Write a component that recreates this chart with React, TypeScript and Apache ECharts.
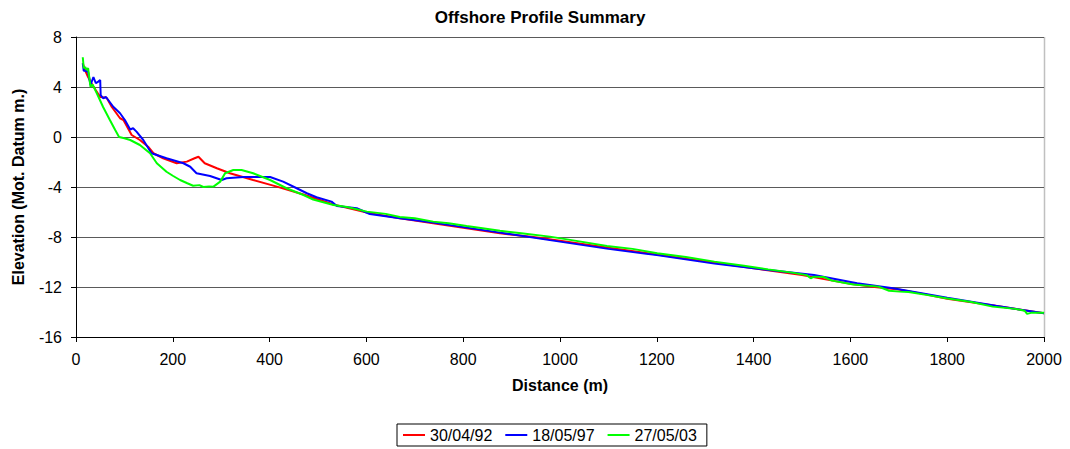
import React, { useEffect, useRef } from "react";
import * as echarts from "echarts";

const seriesNames = ["30/04/92", "18/05/97", "27/05/03"];
const xTicks = { min: 0, max: 2000, interval: 200 };
const yTicks = { min: -16, max: 8, interval: 4 };

const redX = [14, 18, 25, 32, 40, 50, 63, 74, 91, 98, 115, 132, 149, 160, 180, 208, 229, 245, 253, 266, 291, 318, 366, 415, 470, 532, 601, 669, 738, 807, 876, 945, 1000, 1100, 1200, 1300, 1400, 1500, 1600, 1650, 1700, 1750, 1800, 1900, 2000];
const redY = [5.9, 5.4, 4.8, 4.3, 3.8, 3.2, 3.15, 2.4, 1.5, 1.36, 0.16, -0.24, -0.78, -1.3, -1.7, -2.1, -1.97, -1.7, -1.58, -2.1, -2.5, -2.9, -3.44, -3.97, -4.6, -5.4, -6.05, -6.5, -6.9, -7.3, -7.7, -8.0, -8.3, -8.85, -9.4, -9.95, -10.5, -11.05, -11.75, -12.0, -12.2, -12.55, -12.95, -13.5, -14.1];

const blueX = [14, 16, 20, 25, 30, 36, 41, 46, 50, 51, 56, 62, 77, 91, 101, 112, 118, 125, 139, 156, 187, 222, 236, 249, 277, 301, 311, 346, 401, 428, 456, 477, 497, 528, 539, 580, 607, 669, 738, 807, 876, 979, 1100, 1200, 1319, 1400, 1525, 1614, 1688, 1800, 1900, 2000];
const blueY = [5.9, 5.3, 5.3, 5.2, 4.16, 4.8, 4.3, 4.43, 4.56, 3.36, 3.1, 3.2, 2.42, 1.9, 1.36, 0.6, 0.7, 0.43, -0.24, -1.3, -1.7, -2.1, -2.38, -2.9, -3.12, -3.44, -3.3, -3.2, -3.2, -3.57, -4.1, -4.5, -4.82, -5.17, -5.52, -5.7, -6.16, -6.5, -6.85, -7.25, -7.65, -8.25, -8.95, -9.45, -10.13, -10.5, -11.04, -11.7, -12.1, -12.85, -13.5, -14.1];

const greenX = [14, 16, 19, 22, 25, 28, 30, 34, 38, 43, 56, 70, 81, 89, 100, 112, 132, 153, 167, 187, 200, 215, 230, 242, 255, 263, 275, 284, 298, 308, 325, 342, 366, 401, 435, 470, 490, 532, 560, 601, 640, 669, 700, 738, 770, 807, 840, 876, 920, 979, 1040, 1097, 1150, 1201, 1260, 1319, 1380, 1430, 1480, 1510, 1518, 1525, 1545, 1562, 1606, 1658, 1680, 1702, 1720, 1760, 1798, 1850, 1894, 1940, 1960, 1965, 1975, 2000];
const greenY = [6.38, 5.5, 5.6, 5.36, 5.5, 4.6, 4.0, 4.2, 3.9, 3.5, 2.4, 1.36, 0.56, 0.0, -0.1, -0.24, -0.64, -1.3, -2.1, -2.78, -3.1, -3.44, -3.7, -3.9, -3.85, -4.0, -3.95, -3.97, -3.57, -2.9, -2.64, -2.64, -2.9, -3.44, -4.1, -4.64, -5.0, -5.44, -5.6, -5.97, -6.15, -6.4, -6.5, -6.77, -6.9, -7.12, -7.3, -7.5, -7.7, -7.97, -8.35, -8.72, -8.95, -9.3, -9.6, -9.97, -10.3, -10.59, -10.85, -11.05, -11.3, -11.17, -11.2, -11.49, -11.8, -11.97, -12.3, -12.37, -12.4, -12.65, -12.9, -13.2, -13.57, -13.75, -13.9, -14.15, -14.05, -14.05];

const colors = ["#FF0000", "#0000FF", "#00FF00"];

function pairs(xs: number[], ys: number[]) {
  return xs.map((x, i) => [x, ys[i]]);
}

export default function App() {
  const ref = useRef<HTMLDivElement>(null);
  useEffect(() => {
    document.body.style.margin = "0";
    const chart = echarts.init(ref.current!, null, { renderer: "svg" });
    const font = "Liberation Sans, Arial, sans-serif";
    const datasets = [pairs(redX, redY), pairs(blueX, blueY), pairs(greenX, greenY)];
    chart.setOption({
      animation: false,
      backgroundColor: "#ffffff",
      textStyle: { fontFamily: font },
      title: {
        text: "Offshore Profile Summary",
        left: 535,
        textAlign: "center",
        top: 4,
        textStyle: { fontFamily: font, fontSize: 17, fontWeight: "bold", color: "#000" },
      },
      grid: { left: 76, right: 26, top: 37, bottom: 112 },
      xAxis: {
        type: "value",
        min: xTicks.min,
        max: xTicks.max,
        interval: xTicks.interval,
        name: "Distance (m)",
        nameLocation: "middle",
        nameGap: 40,
        nameTextStyle: { fontFamily: font, fontSize: 16, fontWeight: "bold", color: "#000" },
        axisLine: { onZero: false, lineStyle: { color: "#000", width: 1 } },
        axisTick: { show: true, length: 5, lineStyle: { color: "#000" } },
        axisLabel: { fontFamily: font, fontSize: 16, color: "#000", margin: 14, formatter: (v: number) => String(v) },
        splitLine: { show: false },
      },
      yAxis: {
        type: "value",
        min: yTicks.min,
        max: yTicks.max,
        interval: yTicks.interval,
        name: "Elevation (Mot. Datum m.)",
        nameLocation: "middle",
        nameGap: 50,
        nameTextStyle: { fontFamily: font, fontSize: 16, fontWeight: "bold", color: "#000" },
        axisLine: { show: true, lineStyle: { color: "#000", width: 1 } },
        axisTick: { show: true, length: 5, lineStyle: { color: "#000" } },
        axisLabel: { fontFamily: font, fontSize: 16, color: "#000", margin: 14, formatter: (v: number) => String(v) },
        splitLine: { show: true, lineStyle: { color: "#5a5a5a", width: 1 } },
      },
      legend: {
        data: seriesNames,
        left: 397,
        top: 424,
        orient: "horizontal",
        borderColor: "#000",
        borderWidth: 1,
        borderRadius: 0,
        padding: [3, 10, 3, 6],
        itemWidth: 22,
        itemHeight: 2,
        itemGap: 13,
        icon: "rect",
        textStyle: { fontFamily: font, fontSize: 16, color: "#000" },
      },
      graphic: [
        {
          type: "line",
          shape: { x1: 1044.5, y1: 37, x2: 1044.5, y2: 337 },
          style: { stroke: "#c0c0c0", lineWidth: 1.5 },
        },
      ],
      series: seriesNames.map((n, i) => ({
        name: n,
        type: "line",
        data: datasets[i],
        showSymbol: false,
        symbol: "none",
        lineStyle: { color: colors[i], width: 2 },
        itemStyle: { color: colors[i] },
        z: 3 + i,
      })),
    });
    return () => chart.dispose();
  }, []);
  return <div ref={ref} style={{ width: 1070, height: 449 }} />;
}
